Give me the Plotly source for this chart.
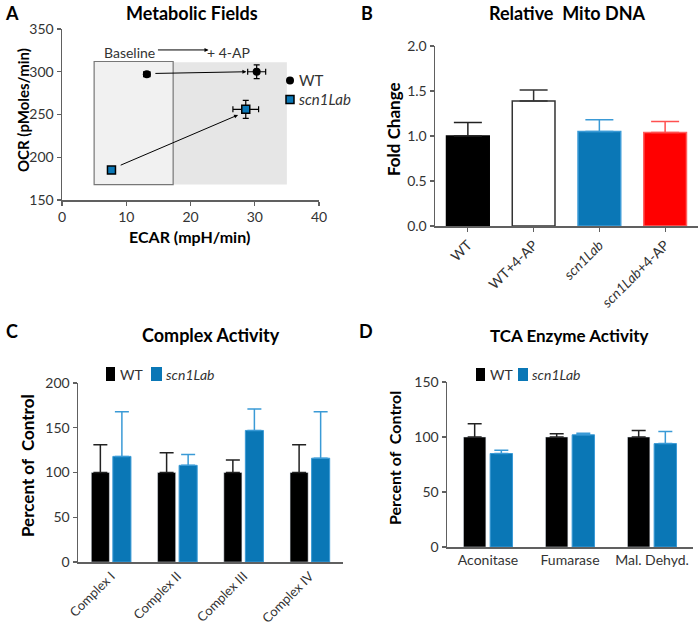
import plotly.graph_objects as go

W, H = 700, 626
FONT = "Lato"
BLUE = "#0a77b6"
RED = "#ff0000"
AX = "#606060"

# ---------- data ----------
# Panel A: metabolic fields
wt_ecar = [13.2, 30.3]
wt_ocr = [297, 300]
wt_ecar_err = [0.5, 1.4]
wt_ocr_err = [2, 8]
scn_ecar = [7.7, 28.6]
scn_ocr = [185, 256]
scn_ecar_err = [0.3, 2.0]
scn_ocr_err = [1.5, 10.5]

# Panel B: relative mito DNA
mito_cats = ["WT", "WT+4-AP", "scn1Lab", "scn1Lab+4-AP"]
mito_labels = ["WT", "WT+4-AP", "<i>scn1Lab</i>", "<i>scn1Lab</i>+4-AP"]
mito_vals = [1.0, 1.39, 1.05, 1.04]
mito_err = [0.15, 0.12, 0.13, 0.12]

# Panel C: complex activity
complex_cats = ["Complex I", "Complex II", "Complex III", "Complex IV"]
complex_wt = [100, 100, 100, 100]
complex_wt_err = [31, 22, 14, 31]
complex_scn = [118, 108, 147, 116]
complex_scn_err = [50, 12, 24, 52]

# Panel D: TCA enzyme activity
tca_cats = ["Aconitase", "Fumarase", "Mal. Dehyd."]
tca_wt = [100, 100, 100]
tca_wt_err = [12, 3, 6]
tca_scn = [85, 102, 94]
tca_scn_err = [3, 1.5, 11]


def px(x, y):
    return x / W, 1 - y / H


def dom_x(a, b):
    return [a / W, b / W]


def dom_y(top, bottom):
    return [1 - bottom / H, 1 - top / H]


fig = go.Figure()

# ---------- Panel A ----------
fig.add_trace(go.Scatter(
    x=wt_ecar, y=wt_ocr, mode="markers", xaxis="x", yaxis="y",
    marker=dict(symbol="circle", size=8, color="black"),
    error_x=dict(type="data", array=wt_ecar_err, color="black", thickness=1.2, width=3),
    error_y=dict(type="data", array=wt_ocr_err, color="black", thickness=1.2, width=3),
    showlegend=False, cliponaxis=False))
fig.add_trace(go.Scatter(
    x=scn_ecar, y=scn_ocr, mode="markers", xaxis="x", yaxis="y",
    marker=dict(symbol="square", size=8, color=BLUE, line=dict(color="black", width=1.5)),
    error_x=dict(type="data", array=scn_ecar_err, color="black", thickness=1.2, width=3),
    error_y=dict(type="data", array=scn_ocr_err, color="black", thickness=1.2, width=3),
    showlegend=False, cliponaxis=False))

# ---------- Panel B ----------
b_fill = ["black", "white", BLUE, RED]
b_line = ["black", "#333", "#3a9ad6", "#ff6060"]
b_err = ["#222", "#333", "#3a9ad6", "#ff5050"]
for i in range(4):
    fig.add_trace(go.Bar(
        x=[mito_cats[i]], y=[mito_vals[i]], xaxis="x2", yaxis="y2",
        width=0.65, offset=-0.325,
        marker=dict(color=b_fill[i], line=dict(color=b_line[i], width=1.5)),
        error_y=dict(type="data", symmetric=False, array=[mito_err[i]], arrayminus=[0],
                     color=b_err[i], thickness=1.5, width=14),
        showlegend=False))

# ---------- Panel C ----------
fig.add_trace(go.Bar(
    x=complex_cats, y=complex_wt, xaxis="x3", yaxis="y3", name="WT",
    marker=dict(color="black"),
    error_y=dict(type="data", symmetric=False, array=complex_wt_err,
                 arrayminus=[0] * 4, color="#222", thickness=1.5, width=7),
    showlegend=False))
fig.add_trace(go.Bar(
    x=complex_cats, y=complex_scn, xaxis="x3", yaxis="y3", name="scn1Lab",
    marker=dict(color=BLUE, line=dict(color="#3a9ad6", width=1)),
    error_y=dict(type="data", symmetric=False, array=complex_scn_err,
                 arrayminus=[0] * 4, color="#3a9ad6", thickness=1.5, width=7),
    showlegend=False))

# ---------- Panel D ----------
fig.add_trace(go.Bar(
    x=tca_cats, y=tca_wt, xaxis="x4", yaxis="y4", name="WT",
    marker=dict(color="black"),
    error_y=dict(type="data", symmetric=False, array=tca_wt_err,
                 arrayminus=[0] * 3, color="#222", thickness=1.5, width=7),
    showlegend=False))
fig.add_trace(go.Bar(
    x=tca_cats, y=tca_scn, xaxis="x4", yaxis="y4", name="scn1Lab",
    marker=dict(color=BLUE, line=dict(color="#3a9ad6", width=1)),
    error_y=dict(type="data", symmetric=False, array=tca_scn_err,
                 arrayminus=[0] * 3, color="#3a9ad6", thickness=1.5, width=7),
    showlegend=False))

tickfont = dict(family=FONT, size=14, color="#333")
axis_common = dict(showline=True, linecolor=AX, linewidth=1.5,
                   tickcolor=AX, ticklen=4, tickwidth=1.2, showgrid=False,
                   zeroline=False, fixedrange=True, automargin=False)

layout_axes = dict(
    xaxis=dict(domain=dom_x(62, 319), range=[0, 40], dtick=10, anchor="y",
               ticks="outside", tickfont=tickfont, **axis_common),
    yaxis=dict(domain=dom_y(29, 200), range=[150, 350], dtick=50, anchor="x",
               ticks="outside", tickfont=tickfont, **axis_common),
    xaxis2=dict(domain=dom_x(435, 698), range=[-0.5, 3.5], anchor="y2",
                tickvals=mito_cats, ticktext=mito_labels, tickangle=-45,
                type="category", ticks="outside", tickfont=tickfont, **axis_common),
    yaxis2=dict(domain=dom_y(46, 226), range=[0, 2], dtick=0.5, tickformat=".1f",
                anchor="x2", ticks="outside", tickfont=tickfont, **axis_common),
    xaxis3=dict(domain=dom_x(78, 343), range=[-0.5, 3.5], anchor="y3", tickangle=-45,
                type="category", ticks="", tickfont=dict(family=FONT, size=13, color="#333"),
                **axis_common),
    yaxis3=dict(domain=dom_y(383, 562), range=[0, 200], dtick=50, anchor="x3",
                ticks="outside", tickfont=tickfont, **axis_common),
    xaxis4=dict(domain=dom_x(447, 693), range=[-0.5, 2.5], anchor="y4",
                type="category", ticks="", tickfont=tickfont, **axis_common),
    yaxis4=dict(domain=dom_y(382, 547), range=[0, 150], dtick=50, anchor="x4",
                ticks="outside", tickfont=tickfont, **axis_common),
)

shapes = []
annotations = []

# Panel A regions
shapes.append(dict(type="rect", xref="x", yref="y", x0=17.3, x1=35, y0=168, y1=311,
                   fillcolor="#e6e6e6", line=dict(width=0), layer="below"))
shapes.append(dict(type="rect", xref="x", yref="y", x0=5, x1=17.3, y0=168, y1=312,
                   fillcolor="#f1f1f1", line=dict(color="#777", width=1.2), layer="below"))

# Panel A arrows
arrow_style = dict(xref="x", yref="y", axref="x", ayref="y", showarrow=True,
                   arrowhead=2, arrowsize=0.8, arrowwidth=1, arrowcolor="black", text="")
annotations.append(dict(x=28.7, y=300, ax=14.3, ay=298, **arrow_style))
annotations.append(dict(x=27.4, y=249.5, ax=8.9, ay=190, **arrow_style))
annotations.append(dict(x=22.8, y=325.5, ax=14.7, ay=325.5, **arrow_style))
annotations.append(dict(x=10.5, y=322, xref="x", yref="y", text="Baseline",
                        xanchor="center", yanchor="middle",
                        showarrow=False, font=dict(family=FONT, size=14, color="#333")))
annotations.append(dict(x=25.9, y=322, xref="x", yref="y", text="+ 4-AP",
                        xanchor="center", yanchor="middle",
                        showarrow=False, font=dict(family=FONT, size=14, color="#333")))

# Panel A legend
cx, cy = px(290, 80.5)
shapes.append(dict(type="circle", xref="paper", yref="paper",
                   x0=cx - 4 / W, x1=cx + 4 / W, y0=cy - 4 / H, y1=cy + 4 / H,
                   fillcolor="black", line=dict(width=0)))
sx, sy = px(290, 99.5)
shapes.append(dict(type="rect", xref="paper", yref="paper",
                   x0=sx - 4 / W, x1=sx + 4 / W, y0=sy - 4 / H, y1=sy + 4 / H,
                   fillcolor=BLUE, line=dict(color="black", width=1.5)))


def legend_text(x, y, text, size=14):
    a, b = px(x, y)
    annotations.append(dict(x=a, y=b, xref="paper", yref="paper", text=text,
                            xanchor="left", yanchor="middle", showarrow=False,
                            font=dict(family=FONT, size=size, color="#333")))


legend_text(297, 80.5, "WT", 15)
legend_text(297, 99.5, "<i>scn1Lab</i>", 15)


def legend_sq(x0, x1, y0, y1, color):
    a, b = px(x0, y1)
    c, d = px(x1, y0)
    shapes.append(dict(type="rect", xref="paper", yref="paper", x0=a, x1=c, y0=b, y1=d,
                       fillcolor=color, line=dict(width=0)))


# Panel C legend
legend_sq(106, 115, 367, 381, "black")
legend_text(118, 374, "WT")
legend_sq(151, 162, 367, 381, BLUE)
legend_text(164, 374, "<i>scn1Lab</i>")
# Panel D legend
legend_sq(476, 485, 368, 381, "black")
legend_text(488, 374.5, "WT")
legend_sq(518, 528, 368, 381, BLUE)
legend_text(530, 374.5, "<i>scn1Lab</i>")


def text_at(x, y, text, size, bold=True, angle=0):
    a, b = px(x, y)
    annotations.append(dict(x=a, y=b, xref="paper", yref="paper",
                            text=f"<b>{text}</b>" if bold else text,
                            textangle=angle, showarrow=False,
                            xanchor="center", yanchor="middle",
                            font=dict(family=FONT, size=size, color="black")))


# Panel letters
text_at(12, 13, "A", 18)
text_at(367, 13, "B", 18)
text_at(12, 331, "C", 18)
text_at(366, 331, "D", 18)
# Titles
text_at(192, 13, "Metabolic Fields", 18)
text_at(567, 13, "Relative\u00a0\u00a0Mito DNA", 18)
text_at(211, 335, "Complex Activity", 18)
text_at(569, 335, "TCA Enzyme Activity", 17)
# Axis titles
text_at(23, 110, "OCR (pMoles/min)", 15, angle=-90)
text_at(190, 236, "ECAR (mpH/min)", 16)
text_at(394, 129, "Fold Change", 17, angle=-90)
text_at(27, 466, "Percent of\u00a0\u00a0Control", 17, angle=-90)
text_at(394, 458, "Percent of\u00a0\u00a0Control", 16, angle=-90)

fig.update_layout(
    width=W, height=H,
    margin=dict(l=0, r=0, t=0, b=0, pad=0),
    paper_bgcolor="white", plot_bgcolor="rgba(0,0,0,0)",
    barmode="group", bargap=0.35, bargroupgap=0.16,
    font=dict(family=FONT, size=14, color="#333"),
    shapes=shapes, annotations=annotations,
    hovermode=False,
    **layout_axes,
)

fig.write_html("out.html",
               config={"displayModeBar": False, "staticPlot": True},
               post_script="document.body.style.margin='0';document.body.style.overflow='hidden';")
